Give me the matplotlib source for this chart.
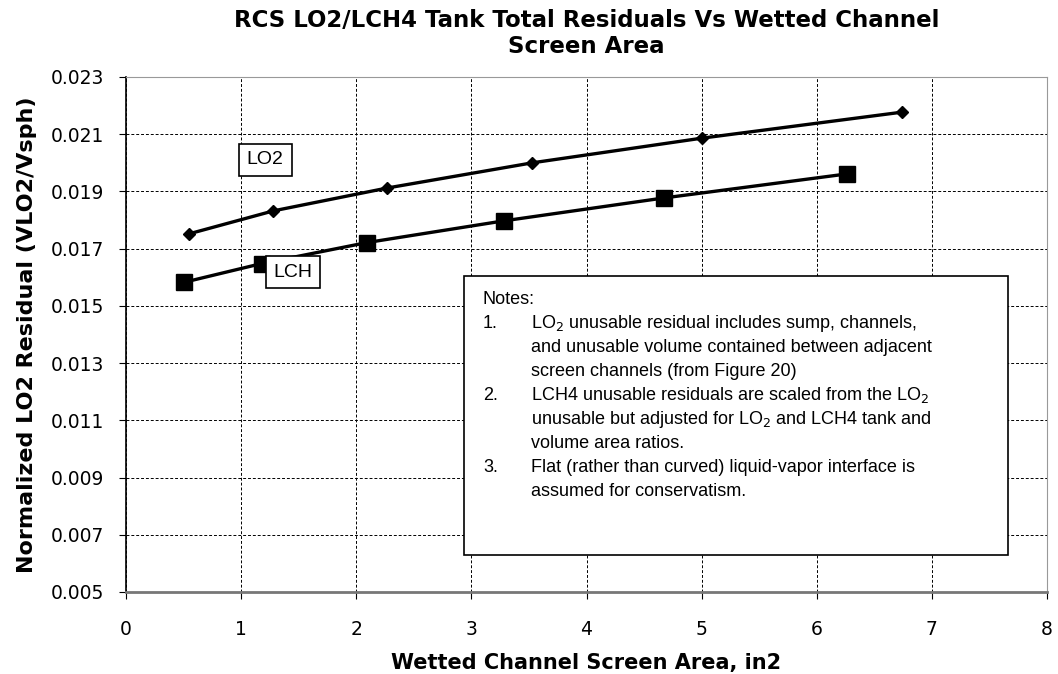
import matplotlib
matplotlib.use('Agg')
import matplotlib.pyplot as plt
from matplotlib.patches import Rectangle

plt.rcParams['font.family'] = ['DejaVu Sans']

# data
lo2_area = [0.55, 1.28, 2.27, 3.53, 5.0, 6.74]
lo2_resid = [0.01752, 0.01832, 0.01912, 0.0200, 0.02086, 0.02177]
lch_area = [0.50, 1.18, 2.09, 3.28, 4.67, 6.26]
lch_resid = [0.01582, 0.01648, 0.01721, 0.01797, 0.01877, 0.01961]

x_ticks = [0, 1, 2, 3, 4, 5, 6, 7, 8]
y_ticks = [0.005, 0.007, 0.009, 0.011, 0.013, 0.015, 0.017, 0.019, 0.021, 0.023]

notes = [
    ("Notes:", ""),
    ("1.", "LO$_2$ unusable residual includes sump, channels,"),
    ("", "and unusable volume contained between adjacent"),
    ("", "screen channels (from Figure 20)"),
    ("2.", "LCH4 unusable residuals are scaled from the LO$_2$"),
    ("", "unusable but adjusted for LO$_2$ and LCH4 tank and"),
    ("", "volume area ratios."),
    ("3.", "Flat (rather than curved) liquid-vapor interface is"),
    ("", "assumed for conservatism."),
]

fig = plt.figure(figsize=(10.58, 6.74), dpi=100)
ax = fig.add_axes([0.1191, 0.1217, 0.8705, 0.7641])

ax.plot(lo2_area, lo2_resid, color='black', lw=2.4, marker='D', ms=6.5)
ax.plot(lch_area, lch_resid, color='black', lw=2.4, marker='s', ms=12)

ax.set_xlim(0, 8)
ax.set_ylim(0.005, 0.023)
ax.set_xticks(x_ticks)
ax.set_yticks(y_ticks)
ax.set_yticklabels(['%.3f' % v for v in y_ticks])
ax.grid(True, color='black', linestyle=(0, (3, 2)), linewidth=0.7)
ax.tick_params(axis='x', direction='out', length=5, pad=15, labelsize=13.5)
ax.tick_params(axis='y', direction='out', length=5, pad=11, labelsize=13.5)
for s in ['top', 'right']:
    ax.spines[s].set_color('#999999')
ax.spines['bottom'].set_color('#777777')
ax.spines['bottom'].set_linewidth(2)
ax.spines['left'].set_linewidth(1.2)

ax.set_title('RCS LO2/LCH4 Tank Total Residuals Vs Wetted Channel\nScreen Area',
             fontsize=16.5, fontweight='bold', pad=17, linespacing=1.2)
ax.set_xlabel('Wetted Channel Screen Area, in2', fontsize=15, fontweight='bold', labelpad=10)
ax.set_ylabel('Normalized LO2 Residual (VLO2/Vsph)', fontsize=16, fontweight='bold', labelpad=10)

lbl = dict(boxstyle='square,pad=0.4', fc='white', ec='black', lw=1.2)
ax.text(1.21, 0.0201, 'LO2', fontsize=14, family='Liberation Sans',
        ha='center', va='center', bbox=lbl)
ax.text(1.45, 0.01618, 'LCH', fontsize=14, family='Liberation Sans',
        ha='center', va='center', bbox=lbl)

# notes box
ax.add_patch(Rectangle((2.94, 0.00629), 4.72, 0.00974, fc='white', ec='black',
                       lw=1.2, zorder=5))
y0 = 0.01507
dy = 0.00084
for i, (num, line) in enumerate(notes):
    yy = y0 - i * dy
    if num:
        ax.text(3.10, yy, num, fontsize=13, family='Liberation Sans',
                va='baseline', zorder=6)
    if line:
        ax.text(3.52, yy, line, fontsize=13, family='Liberation Sans',
                va='baseline', zorder=6)

fig.savefig('out.png', dpi=100)
